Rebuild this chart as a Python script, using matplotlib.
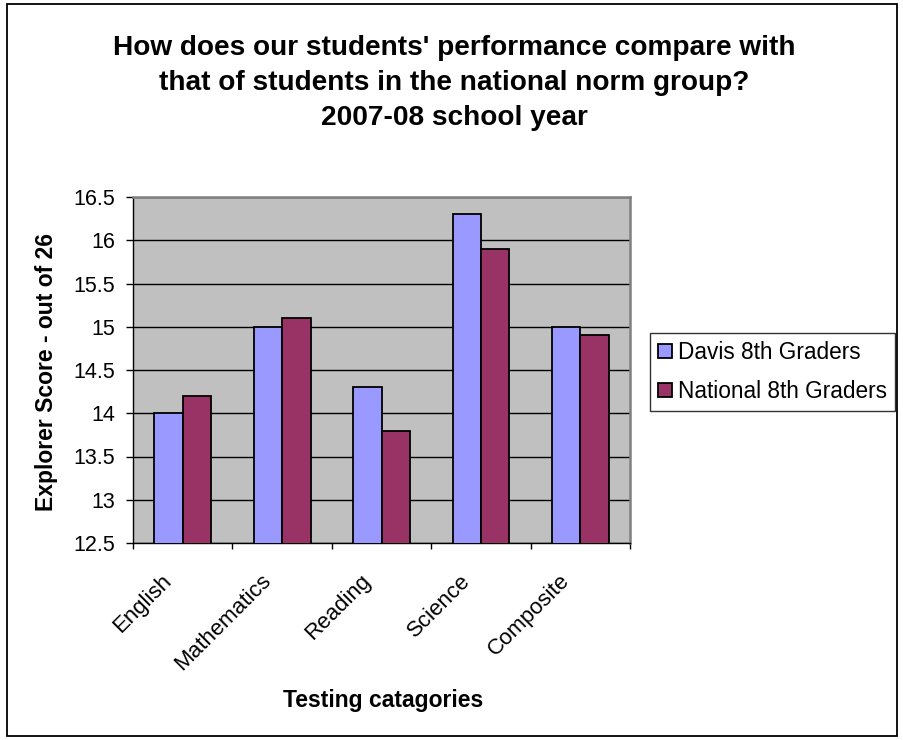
import numpy as np
import matplotlib.pyplot as plt
from matplotlib.patches import Rectangle

categories = ["English", "Mathematics", "Reading", "Science", "Composite"]
davis = [14.0, 15.0, 14.3, 16.3, 15.0]
national = [14.2, 15.1, 13.8, 15.9, 14.9]
series_names = ["Davis 8th Graders", "National 8th Graders"]
title_lines = ["How does our students' performance compare with",
               "that of students in the national norm group?",
               "2007-08 school year"]

plt.rcParams['font.family'] = ['Liberation Sans', 'DejaVu Sans']

W, H = 904, 740
fig = plt.figure(figsize=(W / 100, H / 100), dpi=100)

# plot area in pixels (left, top, right, bottom)
L, T, R, B = 133, 197, 630, 543
ax = fig.add_axes([L / W, 1 - B / H, (R - L) / W, (B - T) / H])
ax.set_facecolor("#C0C0C0")

x = np.arange(len(categories))
w = 1 / 3.5
ax.bar(x - w / 2, davis, w, color="#9999FF", edgecolor="black", linewidth=1.3,
       label=series_names[0], zorder=3)
ax.bar(x + w / 2, national, w, color="#993366", edgecolor="black", linewidth=1.3,
       label=series_names[1], zorder=3)

ax.set_xlim(-0.5, len(categories) - 0.5)
ax.set_ylim(12.5, 16.5)
yt = np.arange(12.5, 16.51, 0.5)
ax.set_yticks(yt)
ax.set_yticklabels([f"{v:g}" for v in yt], fontsize=15.5)
ax.yaxis.grid(True, color="black", linewidth=1, zorder=1)
ax.set_axisbelow(True)

# category ticks at boundaries, labels at centers
ax.set_xticks(np.arange(-0.5, len(categories)))
ax.set_xticklabels([])
ax.tick_params(axis="x", length=4.5, width=1, direction="out")
ax.tick_params(axis="y", length=5, width=1, direction="out", pad=8)
for i, c in enumerate(categories):
    ax.annotate(c, xy=(i, 12.5), xytext=(-10, -25), textcoords="offset points",
                rotation=45, ha="right", va="center", rotation_mode="anchor", fontsize=16)

for s in ["left", "bottom"]:
    ax.spines[s].set_color("black")
    ax.spines[s].set_linewidth(1)
for s in ["top", "right"]:
    ax.spines[s].set_color("#808080")
    ax.spines[s].set_linewidth(1.8)

fig.text(47 / W, 1 - 372 / H, "Explorer Score - out of 26", rotation=90,
         ha="center", va="center", fontsize=16.5, fontweight="bold")
fig.text(383 / W, 1 - 701 / H, "Testing catagories", ha="center", va="center",
         fontsize=16.5, fontweight="bold")

for line, base in zip(title_lines, [55, 90, 125]):
    fig.text(454 / W, 1 - base / H, line, ha="center", va="baseline",
             fontsize=20.2, fontweight="bold")

leg = fig.legend(loc="upper left", bbox_to_anchor=(650 / W, 1 - 333 / H),
                 fontsize=16.3, frameon=True, fancybox=False, handlelength=0.6,
                 handleheight=0.6, handletextpad=0.3, borderpad=0.35, labelspacing=0.7,
                 borderaxespad=0)
leg.get_frame().set_edgecolor("black")
leg.get_frame().set_linewidth(1)

fig.patches.append(Rectangle((7 / W, 4 / H), 890 / W, 732 / H, transform=fig.transFigure,
                             fill=False, edgecolor="black", linewidth=1.3))

fig.savefig("out.png", dpi=100)
